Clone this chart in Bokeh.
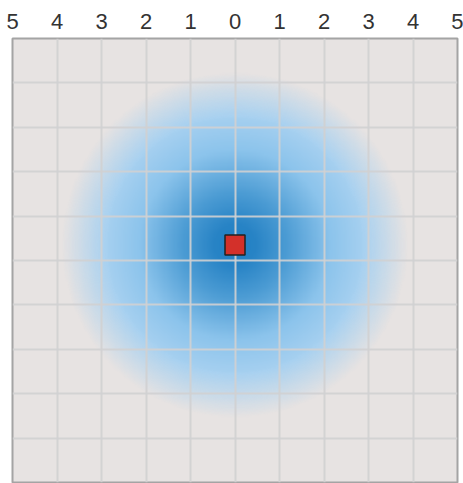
import numpy as np
from bokeh.plotting import figure
from bokeh.models import FixedTicker
from bokeh.embed import file_html
from bokeh.resources import INLINE

# data
x_ticks = [-5, -4, -3, -2, -1, 0, 1, 2, 3, 4, 5]
tick_labels = ["5", "4", "3", "2", "1", "0", "1", "2", "3", "4", "5"]
y_ticks = [-5, -4, -3, -2, -1, 0, 1, 2, 3, 4, 5]
point_x = [0.0]
point_y = [0.35]
glow_radius = 3.9

# gradient colour stops (normalised radius, r, g, b, alpha)
stop_pos = [0.0, 0.12, 0.3, 0.55, 0.74, 1.0]
stop_r = [32, 40, 76, 140, 166, 166]
stop_g = [128, 132, 156, 196, 208, 208]
stop_b = [196, 198, 212, 236, 240, 240]
stop_a = [255, 255, 255, 255, 255, 0]

p = figure(width=463, height=483, x_range=(-5, 5), y_range=(-5, 5),
           x_axis_location="above", y_axis_location=None,
           output_backend="svg", toolbar_location=None,
           min_border_left=12, min_border_right=6, min_border_top=38, min_border_bottom=1)

p.background_fill_color = "#e7e3e2"
p.border_fill_color = "white"
p.outline_line_color = "#a4a4a4"
p.outline_line_width = 2

# radial glow as an RGBA image
n = 400
xs = np.linspace(-5, 5, n)
ys = np.linspace(-5, 5, n)
X, Y = np.meshgrid(xs, ys)
rr = np.sqrt((X - point_x[0]) ** 2 + (Y - point_y[0]) ** 2) / glow_radius
img = np.zeros((n, n), dtype=np.uint32)
view = img.view(dtype=np.uint8).reshape((n, n, 4))
view[:, :, 0] = np.interp(rr, stop_pos, stop_r).astype(np.uint8)
view[:, :, 1] = np.interp(rr, stop_pos, stop_g).astype(np.uint8)
view[:, :, 2] = np.interp(rr, stop_pos, stop_b).astype(np.uint8)
view[:, :, 3] = np.interp(rr, stop_pos, stop_a).astype(np.uint8)
img_r = p.image_rgba(image=[img], x=-5, y=-5, dw=10, dh=10)
img_r.level = "image"

p.xaxis.ticker = FixedTicker(ticks=x_ticks)
p.xaxis.major_label_overrides = {t: l for t, l in zip(x_ticks, tick_labels)}
p.xaxis.axis_line_color = None
p.xaxis.major_tick_line_color = None
p.xaxis.minor_tick_line_color = None
p.xaxis.major_tick_out = 0
p.xaxis.major_tick_in = 0
p.xaxis.major_label_text_font = "Liberation Sans"
p.xaxis.major_label_text_font_size = "22px"
p.xaxis.major_label_text_color = "#333333"
p.xaxis.major_label_standoff = 10

p.xgrid.ticker = FixedTicker(ticks=x_ticks)
p.ygrid.ticker = FixedTicker(ticks=y_ticks)
for g in (p.xgrid, p.ygrid):
    g.grid_line_color = "#d0d0d2"
    g.grid_line_width = 2
    g.grid_line_alpha = 0.9

p.scatter(point_x, point_y, marker="square", size=20,
          fill_color="#d3302a", line_color="#222222", line_width=1.5)

open("out.html", "w").write(file_html(p, INLINE))
